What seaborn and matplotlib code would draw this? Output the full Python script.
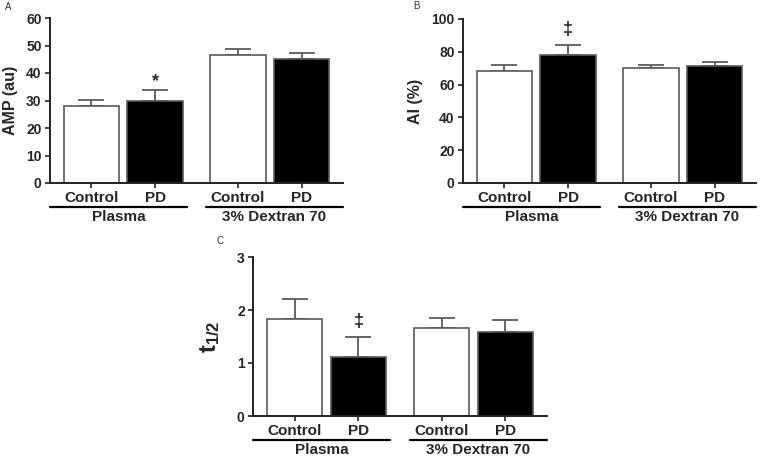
import pandas as pd
import matplotlib.pyplot as plt
import matplotlib.transforms as mtransforms
import seaborn as sns

# data
groups = ["Plasma", "3% Dextran 70"]
conditions = ["Control", "PD"]

amp_mean = [27.9, 29.9, 46.4, 45.2]
amp_err = [2.4, 4.0, 2.4, 2.0]

ai_mean = [68.4, 77.8, 70.0, 71.2]
ai_err = [3.8, 6.3, 2.0, 2.7]

t_mean = [1.83, 1.11, 1.66, 1.59]
t_err = [0.38, 0.38, 0.18, 0.22]

# significance marks: (group, condition, y, symbol)
amp_marks = [("Plasma", "PD", 37.0, "*")]
ai_marks = [("Plasma", "PD", 93.5, "\u2021")]
t_marks = [("Plasma", "PD", 1.78, "\u2021")]

sns.set_style("ticks")
plt.rcParams["font.family"] = ["Liberation Sans", "DejaVu Sans"]
plt.rcParams["mathtext.fontset"] = "custom"
plt.rcParams["mathtext.rm"] = "Liberation Sans"
plt.rcParams["mathtext.bf"] = "Liberation Sans:bold"

FIG_W, FIG_H = 760, 458
fig = plt.figure(figsize=(FIG_W / 100, FIG_H / 100), dpi=100)


def px_axes(left, top, right, bottom):
    return fig.add_axes([left / FIG_W, 1 - bottom / FIG_H,
                         (right - left) / FIG_W, (bottom - top) / FIG_H])


def draw_panel(ax, means, errs, ylabel, ymax, ystep, marks, label_x,
               label_size=11.5):
    df = pd.DataFrame({
        "group": [g for g in groups for _ in conditions],
        "cond": [c for _ in groups for c in conditions],
        "value": means,
        "err": errs,
    })
    sns.barplot(data=df, x="group", y="value", hue="cond",
                order=groups, hue_order=conditions,
                palette={"Control": "white", "PD": "black"},
                edgecolor="#5a5a5a", linewidth=1.2, width=0.87, gap=0.13,
                errorbar=None, legend=False, ax=ax)

    centers, labels = [], []
    for cond, cont in zip(conditions, ax.containers):
        for grp, bar in zip(groups, cont):
            row = df[(df.group == grp) & (df.cond == cond)].iloc[0]
            xc = bar.get_x() + bar.get_width() / 2
            ax.errorbar(xc, bar.get_height(), yerr=[[0], [row.err]],
                        color="#5a5a5a", elinewidth=1.3, capsize=9.5,
                        capthick=1.3, zorder=1)
            centers.append(xc)
            labels.append(cond)
            for mg, mc, my, sym in marks:
                if mg == grp and mc == cond:
                    ax.text(xc, my, sym, ha="center", va="center",
                            fontsize=13, fontweight="bold")
            bar.set_zorder(2)

    ax.set_xlim(-0.5, 1.5)
    ax.set_ylim(0, ymax)
    ax.set_yticks([ystep * i for i in range(int(round(ymax / ystep)) + 1)])
    ax.set_xticks(centers)
    ax.set_xticklabels(labels, fontsize=11, fontweight="bold")
    for t in ax.get_yticklabels():
        t.set_fontweight("bold")
        t.set_fontsize(10)
    ax.tick_params(axis="both", width=1.2, length=3.5, color="#222222",
                   pad=2.5)
    ax.set_xlabel("")
    ax.set_ylabel(ylabel, fontsize=label_size, fontweight="bold")
    ax.yaxis.set_label_coords(label_x, 0.5)
    for side in ["left", "bottom"]:
        ax.spines[side].set_linewidth(1.4)
        ax.spines[side].set_color("#222222")
    sns.despine(ax=ax)

    # group underlines and names
    line_trans = mtransforms.offset_copy(ax.get_xaxis_transform(), fig=fig,
                                         y=-24, units="dots")
    spans = [(-0.5, 0.435), (0.565, 1.5)]
    for name, (x0, x1) in zip(groups, spans):
        ax.plot([x0, x1], [0, 0], color="black", lw=1.6,
                transform=line_trans, clip_on=False)
        ax.annotate(name, xy=((x0 + x1) / 2, 0),
                    xycoords=ax.get_xaxis_transform(),
                    xytext=(0, -24.5), textcoords="offset points",
                    ha="center", va="center", fontsize=11,
                    fontweight="bold", annotation_clip=False)


ax_a = px_axes(50, 18, 343, 183)
draw_panel(ax_a, amp_mean, amp_err, "AMP (au)", 60, 10, amp_marks, -0.11)

ax_b = px_axes(463, 19, 756, 183)
draw_panel(ax_b, ai_mean, ai_err, "AI (%)", 100, 20, ai_marks, -0.137)

ax_c = px_axes(253, 257, 547, 416)
draw_panel(ax_c, t_mean, t_err, r"$\mathbf{t_{1/2}}$", 3, 1, t_marks, -0.105,
           label_size=17)

for letter, (x, y) in zip("ABC", [(8, 7), (416, 6), (220, 241)]):
    fig.text(x / FIG_W, 1 - y / FIG_H, letter, ha="center", va="center",
             fontsize=7, color="#333333")

fig.savefig("out.png", dpi=100)
